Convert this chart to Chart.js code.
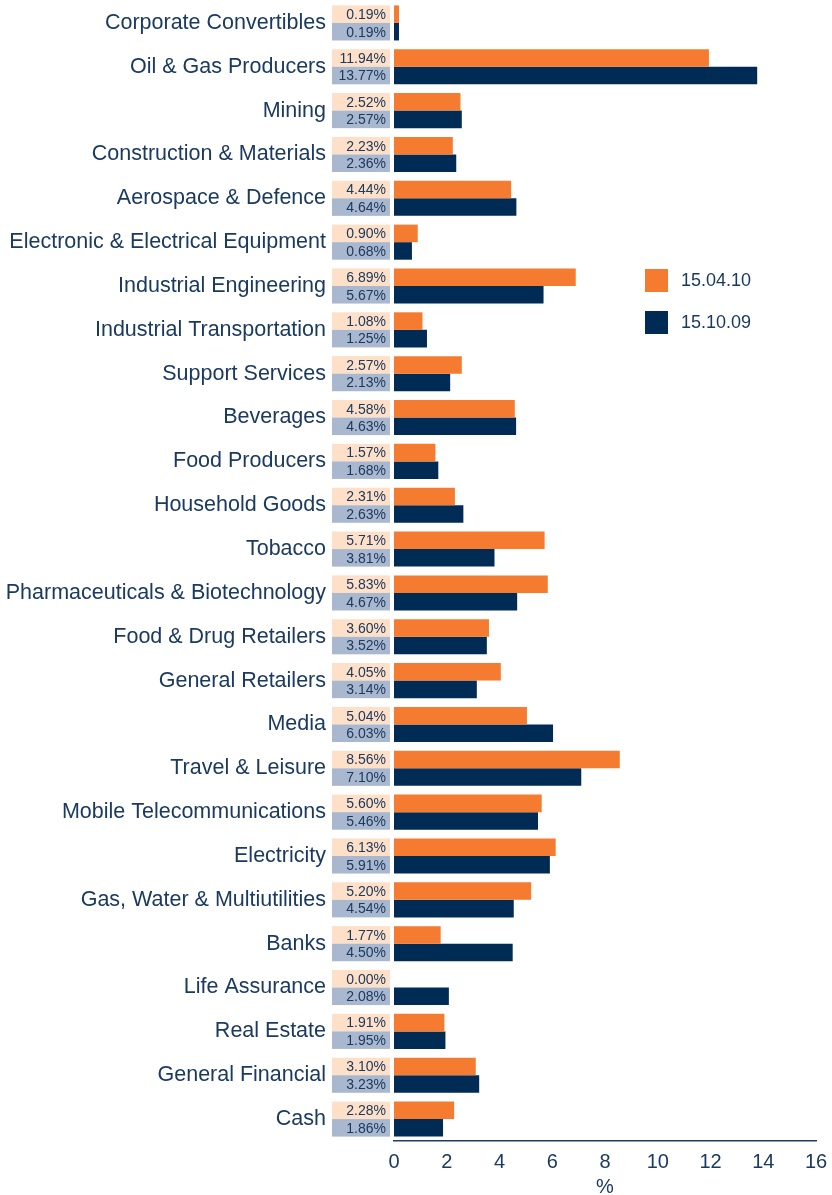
<!DOCTYPE html>
<html>
<head>
<meta charset="utf-8">
<script src="https://cdn.jsdelivr.net/npm/chart.js@4.4.1/dist/chart.umd.min.js"></script>
<style>
  body { margin: 0; background: #fff; }
  canvas { display: block; }
</style>
</head>
<body>
<canvas id="myChart" width="832" height="1195"></canvas>
<script>
var categories = ['Corporate Convertibles', 'Oil & Gas Producers', 'Mining', 'Construction & Materials',
  'Aerospace & Defence', 'Electronic & Electrical Equipment', 'Industrial Engineering',
  'Industrial Transportation', 'Support Services', 'Beverages', 'Food Producers', 'Household Goods',
  'Tobacco', 'Pharmaceuticals & Biotechnology', 'Food & Drug Retailers', 'General Retailers', 'Media',
  'Travel & Leisure', 'Mobile Telecommunications', 'Electricity', 'Gas, Water & Multiutilities', 'Banks',
  'Life Assurance', 'Real Estate', 'General Financial', 'Cash'];
var apr10 = [0.19, 11.94, 2.52, 2.23, 4.44, 0.90, 6.89, 1.08, 2.57, 4.58, 1.57, 2.31, 5.71, 5.83,
  3.60, 4.05, 5.04, 8.56, 5.60, 6.13, 5.20, 1.77, 0.00, 1.91, 3.10, 2.28];
var oct09 = [0.19, 13.77, 2.57, 2.36, 4.64, 0.68, 5.67, 1.25, 2.13, 4.63, 1.68, 2.63, 3.81, 4.67,
  3.52, 3.14, 6.03, 7.10, 5.46, 5.91, 4.54, 4.50, 2.08, 1.95, 3.23, 1.86];
var seriesNames = ['15.04.10', '15.10.09'];
var xTicks = [0, 2, 4, 6, 8, 10, 12, 14, 16];

var navy = '#002b55';
var orange = '#f47b2f';
var textCol = '#1b3a60';
var boxCols = ['#fde0c7', '#a9b8cf'];
var fontFam = '"Liberation Sans", Arial, sans-serif';

var ctx = document.getElementById('myChart').getContext('2d');

// value boxes left of the bars + legend in the middle right
var boxesPlugin = {
  id: 'boxes',
  afterDatasetsDraw: function(chart) {
    var c = chart.ctx;
    var left = chart.chartArea.left;
    c.save();
    c.font = '14px ' + fontFam;
    c.textAlign = 'right';
    c.textBaseline = 'middle';
    chart.data.datasets.forEach(function(ds, di) {
      var meta = chart.getDatasetMeta(di);
      meta.data.forEach(function(el, i) {
        var p = el.getProps(['y', 'height'], true);
        c.fillStyle = boxCols[di];
        c.fillRect(left - 62, p.y - p.height / 2, 58, p.height);
        c.fillStyle = textCol;
        c.fillText(ds.data[i].toFixed(2) + '%', left - 8, p.y + 1);
      });
    });
    // legend
    c.font = '18px ' + fontFam;
    c.textAlign = 'left';
    var ly = [280, 322];
    chart.data.datasets.forEach(function(ds, di) {
      c.fillStyle = ds.backgroundColor;
      c.fillRect(645, ly[di] - 11, 23, 23);
      c.fillStyle = textCol;
      c.fillText(ds.label, 681, ly[di] + 1);
    });
    c.restore();
  }
};

var chart = new Chart(ctx, {
  type: 'bar',
  data: {
    labels: categories,
    datasets: [
      { label: seriesNames[0], data: apr10, backgroundColor: orange },
      { label: seriesNames[1], data: oct09, backgroundColor: navy }
    ]
  },
  options: {
    indexAxis: 'y',
    responsive: false,
    animation: false,
    layout: { padding: { left: 0, right: 16, top: 1, bottom: 0 } },
    datasets: { bar: { barPercentage: 1, categoryPercentage: 0.8 } },
    plugins: { legend: { display: false }, tooltip: { enabled: false } },
    scales: {
      y: {
        grid: { display: false, drawTicks: false },
        border: { display: false },
        ticks: { padding: 68, color: textCol, font: { family: fontFam, size: 21.5 } },
        afterFit: function(s) { s.width = 394; s.paddingTop = 0; s.paddingBottom = 0; }
      },
      x: {
        min: 0, max: 16,
        afterBuildTicks: function(s) { s.ticks = xTicks.map(function(v) { return { value: v }; }); },
        grid: { display: false, drawTicks: false },
        border: { display: true, color: '#1f3d63', width: 1.5 },
        ticks: { padding: 9, color: textCol, font: { family: fontFam, size: 20 } },
        title: { display: true, text: '%', color: textCol, padding: { top: 0, bottom: -4 }, font: { family: fontFam, size: 20 } },
        afterFit: function(s) { s.height = 54; s.paddingLeft = 0; s.paddingRight = 0; }
      }
    }
  },
  plugins: [boxesPlugin]
});
</script>
</body>
</html>
